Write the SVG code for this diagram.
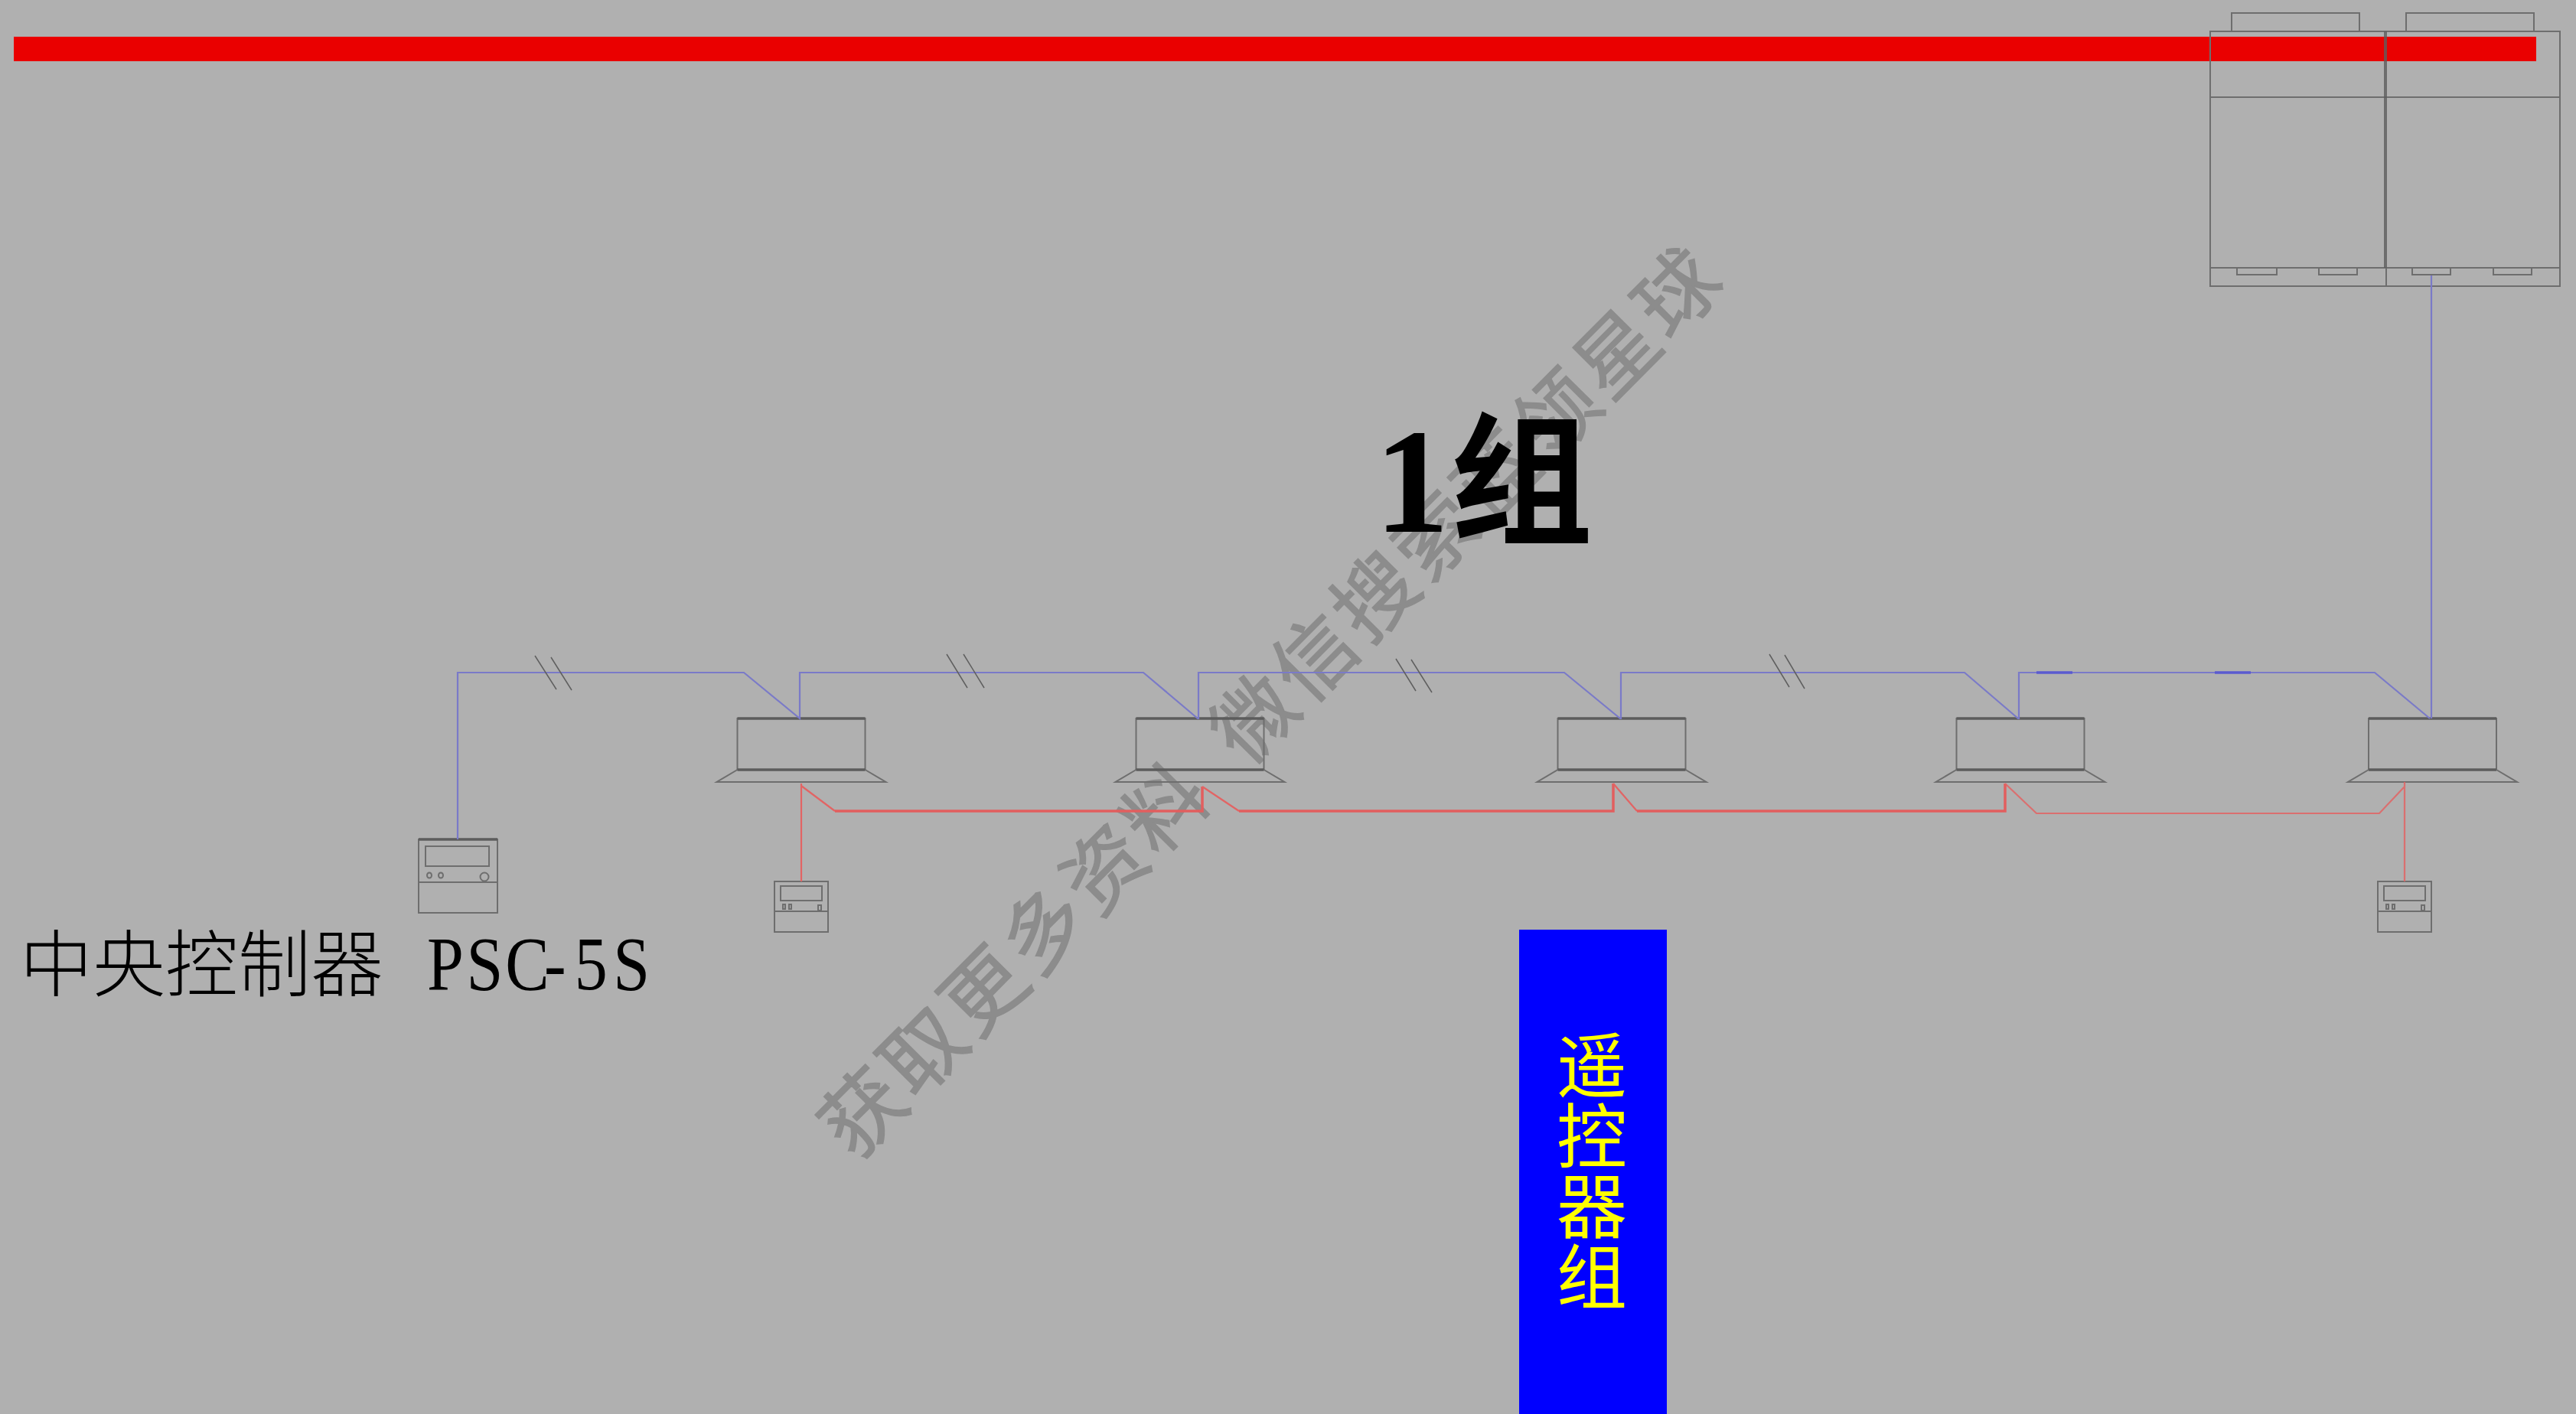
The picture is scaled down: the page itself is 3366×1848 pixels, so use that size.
<svg xmlns="http://www.w3.org/2000/svg" width="3366" height="1848" viewBox="0 0 3366 1848">
<style>
.g{fill:none;stroke:#6e6e6e;stroke-width:2}
.gt{fill:none;stroke:#5c5c5c;stroke-width:3.5}
.t{fill:none;stroke:#5f5f5f;stroke-width:1.5}
.b{fill:none;stroke:#7a7ac8;stroke-width:2.2;stroke-linejoin:miter}
.r{fill:none;stroke:#e26464;stroke-width:2.2}
.rt{fill:none;stroke:#e25e5e;stroke-width:3.5}
.cjk{font-family:"Noto Sans CJK SC","Noto Sans",sans-serif}
.ser{font-family:"Liberation Serif",serif}
</style>
<defs>
<g id="indoor">
<rect class="g" x="-83" y="939" width="167" height="67"/>
<path class="gt" d="M-83 939H84M-83 1006H84"/>
<path class="g" d="M-83 1006L-110 1022H111L84 1006"/>
</g>
<g id="remote">
<rect class="g" x="-35" y="1152" width="70" height="66"/>
<rect class="g" x="-27" y="1158" width="54" height="19"/>
<path class="g" d="M-35 1191H35"/>
<rect class="g" x="-24" y="1182" width="3" height="6"/>
<rect class="g" x="-16" y="1182" width="3" height="6"/>
<rect class="g" x="22" y="1183" width="4" height="7"/>
</g>
</defs>
<rect width="3366" height="1848" fill="#b0b0b0"/>
<text id="watermark" class="cjk" transform="translate(1117.5 1518.5) rotate(-45.2)" font-size="106" letter-spacing="6" fill="#8c8c8c" stroke="#8c8c8c" stroke-width="1.5" xml:space="preserve">获取更多资料 <tspan dx="24">微信搜索蓝领星球</tspan></text>
<rect id="top-bar" x="18" y="48" width="3296" height="32" fill="#ea0000"/>
<g id="outdoor-unit">
<rect class="g" x="2888" y="41" width="457" height="333"/>
<path class="g" d="M2888 127H3345M2888 350H3345M3118 350V374"/>
<path d="M3117 41V350" fill="none" stroke="#5c5c5c" stroke-opacity=".8" stroke-width="4"/>
<path class="g" d="M2916 41V17H3083V41M3144 41V17H3311V41"/>
<rect class="g" x="2923" y="350" width="52" height="9"/>
<rect class="g" x="3030" y="350" width="50" height="9"/>
<rect class="g" x="3152" y="350" width="50" height="9"/>
<rect class="g" x="3258" y="350" width="50" height="9"/>
</g>
<g id="indoor-1"><use href="#indoor" x="1046.5"/></g>
<g id="indoor-2"><use href="#indoor" x="1567.5"/></g>
<g id="indoor-3"><use href="#indoor" x="2118.5"/></g>
<g id="indoor-4"><use href="#indoor" x="2639.5"/></g>
<g id="indoor-5"><use href="#indoor" x="3178"/></g>
<g id="central-controller">
<rect class="g" x="547" y="1097" width="103" height="96"/>
<path class="gt" d="M547 1097H650"/>
<rect class="g" x="556" y="1106" width="83" height="26"/>
<path class="g" d="M547 1153H650"/>
<ellipse class="g" cx="561" cy="1144" rx="3" ry="3.5"/>
<ellipse class="g" cx="576" cy="1144" rx="3" ry="3.5"/>
<circle class="g" cx="633" cy="1146" r="5.5"/>
</g>
<g id="remote-1"><use href="#remote" x="1047"/></g>
<g id="remote-2"><use href="#remote" x="3142"/></g>
<g id="connectors">
<path class="b" d="M598 1097V879H972L1045 939V879H1494L1565 939H1566V879H2044L2117 939H2118V879H2567L2637 939H2638V879H3103L3175 939"/>
<path class="b" d="M3177 360V939"/>
<path d="M2661 879H2708M2894 879H2941" fill="none" stroke="#5a5ad0" stroke-width="3.5"/>
<path class="r" d="M1047 1024V1152M1047 1027L1091 1060"/>
<path class="rt" d="M1091 1060H1571V1028"/>
<path class="r" d="M1571 1028L1619 1060"/>
<path class="rt" d="M1619 1060H2108V1024"/>
<path class="r" d="M2108 1024L2139 1060"/>
<path class="rt" d="M2139 1060H2620V1024"/>
<path class="r" d="M2620 1024L2661 1063H3109L3142 1028M3142 1022V1152" stroke-opacity=".85"/>
<path class="t" d="M699 857L727 901M720 859L747 902M1237 855L1264 899M1259 855L1286 899M1824 861L1850 903M1844 862L1871 905M2312 855L2338 898M2332 856L2358 900"/>
</g>
<g id="labels">
<text class="cjk" x="26" y="1295" font-size="95" font-weight="300" fill="#000">中央控制器</text>
<text class="ser" transform="translate(558 1293) scale(.86 1)" x="0 60 119 178 224 283" font-size="100" fill="#000">PSC-5S</text>
<text class="ser" x="1796" y="695" font-size="195" font-weight="700" fill="#000">1</text>
<text class="cjk" x="1895" y="697" font-size="186" font-weight="700" fill="#000">组</text>
</g>
<g id="remote-group-box">
<rect x="1985" y="1215" width="193" height="633" fill="#0000ff"/>
<text class="cjk" x="2080" y="1346" font-size="92" fill="#ffff00" style="writing-mode:vertical-rl">遥控器组</text>
</g>
</svg>
